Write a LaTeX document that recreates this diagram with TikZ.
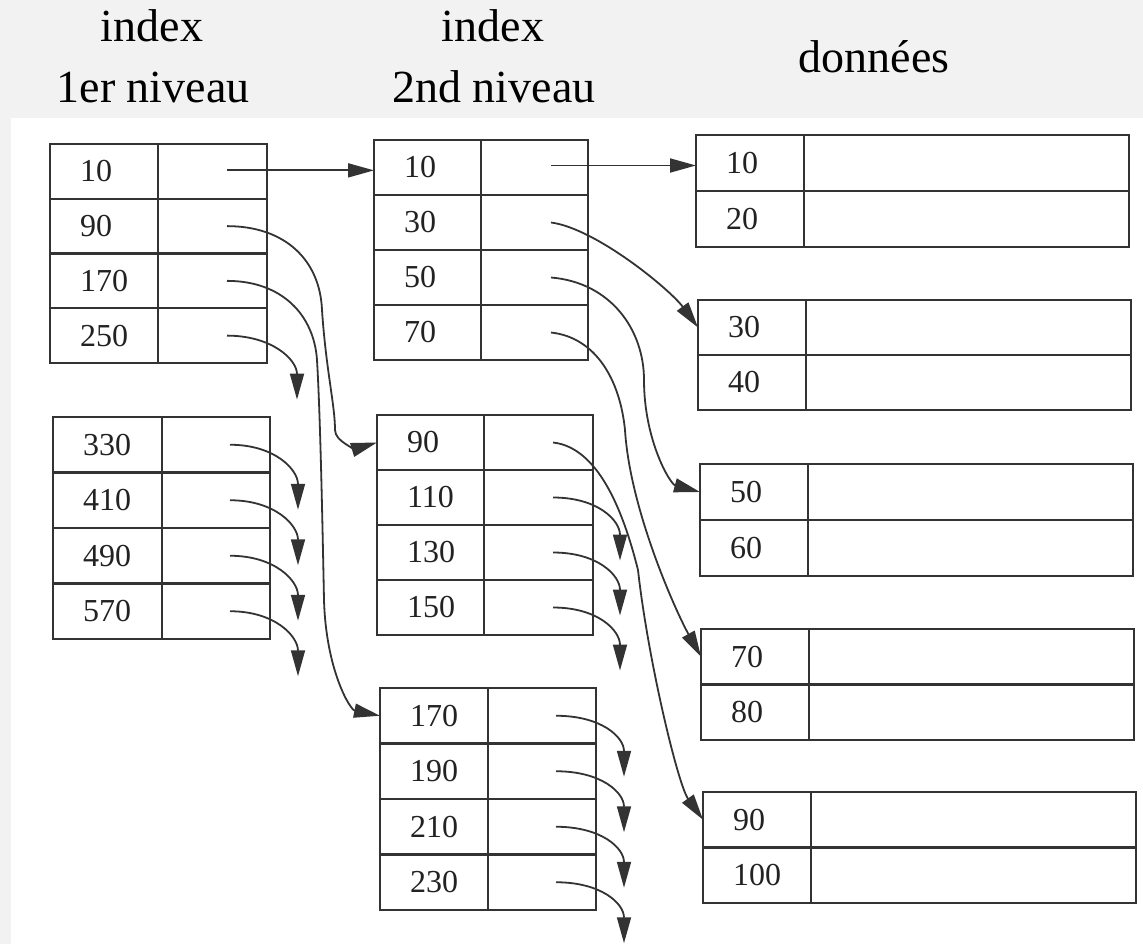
\documentclass[tikz,border=0pt]{standalone}
\usepackage{fontspec}
\setmainfont{Liberation Serif}
\usetikzlibrary{arrows.meta,calc}
\definecolor{bggray}{HTML}{F2F2F2}
\definecolor{linec}{HTML}{333333}
\definecolor{textc}{HTML}{222222}
\tikzset{
  cellbase/.style={draw=linec, line width=2.2pt, inner sep=0pt, outer sep=0pt, rectangle},
  kcell/.style={cellbase, text=textc, font=\fontsize{32}{36}\selectfont},
  pcell/.style={cellbase},
  conn/.style={draw=linec, line width=1.8pt, -{Triangle[length=26pt,width=14pt]}},
  head/.style={font=\fontsize{46}{50}\selectfont, text=black, anchor=base, inner sep=0pt}
}
\newcommand\mkbox[7]{%
  \foreach \k [count=\i] in {#7} {%
    \node[kcell, minimum height=#6pt, anchor=north west] (#1-\i-k) at (#2,{#3+(\i-1)*#6}) {\makebox[#4pt][l]{\hspace*{30pt}\k}};
    \node[pcell, minimum width=#5pt, minimum height=#6pt, anchor=west] (#1-\i-p) at (#1-\i-k.east) {};
  }%
}
\newcommand\darrow[3]{\draw[conn] ($(#1.east)+(-40,0)$) .. controls +(45,0) and +(0,-40) .. ($(#1.east)+(#2,#3)$);}
\begin{document}
\begin{tikzpicture}[x=1pt,y=-1pt]
\useasboundingbox (0,0) rectangle (1143,944);
\fill[bggray] (0,0) rectangle (1143,944);
\fill[white] (11,118) rectangle (1143,944);
% headers
\node[head] (h1a) at (152,42) {index};
\node[head] (h1b) at (153,103) {1er niveau};
\node[head] (h2a) at (493,42) {index};
\node[head] (h2b) at (494,103) {2nd niveau};
\node[head] (h3) at (874,73) {données};
% first-level index
\mkbox{L1a}{50}{144}{108}{109}{54.75}{10,90,170,250}
\mkbox{L1b}{53}{417}{109}{108}{55.5}{330,410,490,570}
% second-level index
\mkbox{L2a}{374}{140}{107}{107}{55}{10,30,50,70}
\mkbox{L2b}{377}{415}{107}{109}{55}{90,110,130,150}
\mkbox{L2c}{380}{688}{108}{108}{55.5}{170,190,210,230}
% data
\mkbox{D1}{696}{135}{108}{325}{56}{10,20}
\mkbox{D2}{698}{300}{108}{325}{55}{30,40}
\mkbox{D3}{700}{464}{108}{325}{56}{50,60}
\mkbox{D4}{701}{629}{108}{325}{55.5}{70,80}
\mkbox{D5}{703}{792}{108}{325}{55.5}{90,100}
% via points
\coordinate (v90a) at (322,310);
\coordinate (v90b) at (335,430);
\coordinate (v170a) at (317,360);
\coordinate (v170b) at (324,600);
\coordinate (v50) at (644,380);
\coordinate (v70) at (625,430);
\coordinate (v90d) at (638,570);
% level 1 -> level 2
\draw[conn] ($(L1a-1-p.east)+(-40,-1)$) coordinate (s10) -- (s10 -| L2a-1-k.west);
\draw[conn] ($(L1a-2-p.east)+(-40,0)$) .. controls +(58,0) and +(-2,-50) .. (v90a)
  .. controls +(4,60) and +(0,-25) .. (v90b) .. controls +(0,12) and +(-20,6) .. (L2b-1-k.west);
\draw[conn] ($(L1a-3-p.east)+(-40,0)$) .. controls +(55,0) and +(-3,-45) .. (v170a)
  .. controls +(3,50) and +(-2,-100) .. (v170b) .. controls +(2,70) and +(-30,-6) .. (L2c-1-k.west);
\darrow{L1a-4-p}{30}{64}
\foreach \i in {1,...,4} {\darrow{L1b-\i-p}{28}{65}}
% level 2 -> data
\draw[conn] ($(L2a-1-p.east)+(-37,-2)$) coordinate (s10b) -- (s10b -| D1-1-k.west);
\draw[conn] ($(L2a-2-p.east)+(-37,0)$) .. controls +(45,6) and +(-28,-38) .. (D2-1-k.west);
\draw[conn] ($(L2a-3-p.east)+(-37,0)$) .. controls +(60,5) and +(0,-50) .. (v50)
  .. controls +(0,60) and +(-30,-8) .. (D3-1-k.west);
\draw[conn] ($(L2a-4-p.east)+(-37,0)$) .. controls +(45,5) and +(-5,-50) .. (v70)
  .. controls +(5,80) and +(-25,-45) .. (D4-1-k.west);
\draw[conn] ($(L2b-1-p.east)+(-40,0)$) .. controls +(45,5) and +(-15,-60) .. (v90d)
  .. controls +(10,90) and +(-25,-35) .. (D5-1-k.west);
\foreach \i in {2,3,4} {\darrow{L2b-\i-p}{27}{63}}
\foreach \i in {1,...,4} {\darrow{L2c-\i-p}{28}{61}}
\end{tikzpicture}
\end{document}
